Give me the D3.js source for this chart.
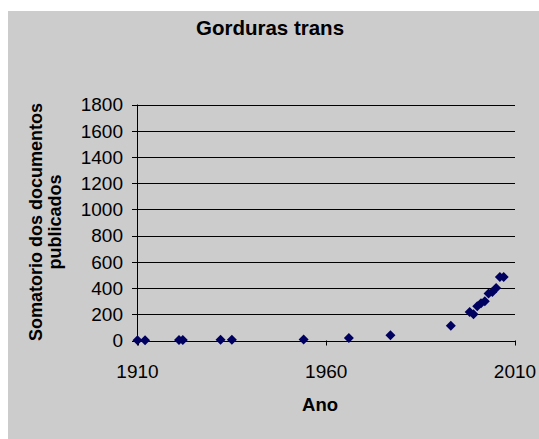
<!DOCTYPE html>
<html>
<head>
<meta charset="utf-8">
<script src="https://cdn.jsdelivr.net/npm/d3@7"></script>
<style>
  body { margin: 0; background: #ffffff; }
  text { font-family: "Liberation Sans", Arial, sans-serif; }
</style>
</head>
<body>
<svg id="chart" width="539" height="439"></svg>
<script>
// years and cumulative count of published documents
const years  = [1910, 1912, 1921, 1922, 1932, 1935, 1954, 1966, 1977, 1993, 1998, 1999, 2000, 2001, 2002, 2003, 2004, 2005, 2006, 2007];
const counts = [1, 2, 3, 4, 5, 6, 7, 20, 40, 112, 218, 200, 262, 285, 300, 358, 370, 400, 485, 485];
const yTicks = [0, 200, 400, 600, 800, 1000, 1200, 1400, 1600, 1800];
const xTicks = [1910, 1960, 2010];

const data = years.map((y, i) => ({ year: y, count: counts[i] }));

const svg = d3.select("#chart");

// chart area background
svg.append("rect")
  .attr("x", 8).attr("y", 11)
  .attr("width", 531).attr("height", 428)
  .attr("fill", "#cccccc");

const x = d3.scaleLinear().domain([1910, 2010]).range([137.5, 515]);
const y = d3.scaleLinear().domain([0, 1800]).range([340.5, 104.5]);

// gridlines (with tick stubs on the left)
svg.append("g")
  .selectAll("line")
  .data(yTicks)
  .join("line")
  .attr("x1", 132).attr("x2", 515)
  .attr("y1", d => Math.round(y(d)) + 0.5)
  .attr("y2", d => Math.round(y(d)) + 0.5)
  .attr("stroke", "#000")
  .attr("stroke-width", 1);

// y axis line
svg.append("line")
  .attr("x1", 137.5).attr("x2", 137.5)
  .attr("y1", y(1800)).attr("y2", y(0) + 5)
  .attr("stroke", "#000");

// x ticks
svg.append("g")
  .selectAll("line")
  .data(xTicks)
  .join("line")
  .attr("x1", d => Math.round(x(d)) + 0.5)
  .attr("x2", d => Math.round(x(d)) + 0.5)
  .attr("y1", y(0)).attr("y2", y(0) + 5)
  .attr("stroke", "#000");

// y tick labels
svg.append("g")
  .selectAll("text")
  .data(yTicks)
  .join("text")
  .attr("x", 123)
  .attr("y", d => y(d))
  .attr("dy", "0.36em")
  .attr("text-anchor", "end")
  .attr("font-size", 19)
  .attr("fill", "#000")
  .text(d => d);

// x tick labels
svg.append("g")
  .selectAll("text")
  .data(xTicks)
  .join("text")
  .attr("x", d => x(d))
  .attr("y", 378)
  .attr("text-anchor", "middle")
  .attr("font-size", 19)
  .attr("fill", "#000")
  .text(d => d);

// points: Excel-like diamonds
svg.append("g")
  .selectAll("path")
  .data(data)
  .join("path")
  .attr("d", d3.symbol(d3.symbolSquare, 50))
  .attr("transform", d => `translate(${x(d.year)},${y(d.count)}) rotate(45)`)
  .attr("fill", "#000060");

// title
svg.append("text")
  .attr("x", 270).attr("y", 35)
  .attr("text-anchor", "middle")
  .attr("font-size", 20.5)
  .attr("font-weight", "bold")
  .text("Gorduras trans");

// x axis title
svg.append("text")
  .attr("x", 320).attr("y", 411)
  .attr("text-anchor", "middle")
  .attr("font-size", 18.5)
  .attr("font-weight", "bold")
  .text("Ano");

// y axis title (two lines)
const yTitle = svg.append("text")
  .attr("transform", "translate(42,222) rotate(-90)")
  .attr("text-anchor", "middle")
  .attr("font-size", 18)
  .attr("font-weight", "bold");
yTitle.append("tspan").attr("x", 0).attr("y", 0).text("Somatorio dos documentos");
yTitle.append("tspan").attr("x", 0).attr("y", 19).text("publicados");
</script>
</body>
</html>
